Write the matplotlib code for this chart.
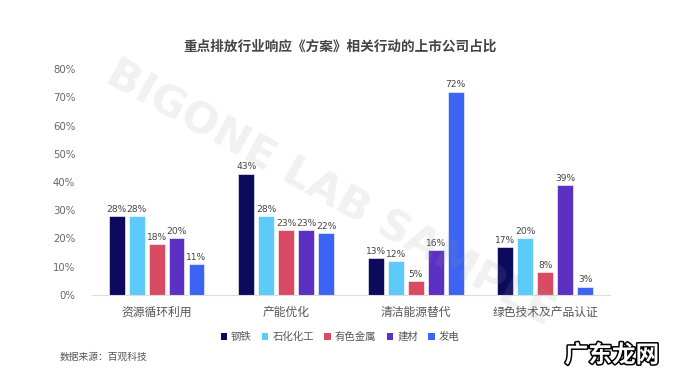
import matplotlib
matplotlib.use("Agg")
import matplotlib.pyplot as plt
import matplotlib.patheffects as pe
from matplotlib.patches import Patch
import numpy as np

plt.rcParams['font.family'] = ['Noto Sans CJK SC', 'DejaVu Sans']

categories = ['资源循环利用', '产能优化', '清洁能源替代', '绿色技术及产品认证']
series_names = ['钢铁', '石化化工', '有色金属', '建材', '发电']
steel = [28, 43, 13, 17]
petrochem = [28, 28, 12, 20]
nonferrous = [18, 23, 5, 8]
building = [20, 23, 16, 39]
power = [11, 22, 72, 3]
yticks = [0, 10, 20, 30, 40, 50, 60, 70, 80]
colors = ['#0c0a5c', '#5ccbfa', '#d94b63', '#5b30c3', '#3c63f4']

series = [steel, petrochem, nonferrous, building, power]

fig = plt.figure(figsize=(6.8, 3.8), dpi=100)
ax = fig.add_axes([0.135, 0.2237, 0.762, 0.5947])

x = np.arange(len(categories))
pitch = 0.154
width = 0.123
for i, (vals, c) in enumerate(zip(series, colors)):
    pos = x + (i - 2) * pitch
    ax.bar(pos, vals, width=width, color=c, edgecolor='white', linewidth=0.4, zorder=2)
    for p, v in zip(pos, vals):
        ax.text(p, v + 0.8, f'{v}%', ha='center', va='bottom', fontsize=6.6,
                color='#444444', family=['DejaVu Sans'], zorder=3)

ax.set_xlim(-0.5, 3.5)
ax.set_ylim(0, 80)
ax.set_yticks(yticks)
ax.set_yticklabels([f'{t}%' for t in yticks], fontsize=7.3, color='#666666', family=['DejaVu Sans'])
ax.set_xticks(x)
ax.set_xticklabels(categories, fontsize=8.5, color='#555555')
ax.tick_params(axis='both', length=0)
ax.tick_params(axis='y', pad=12)
ax.tick_params(axis='x', pad=8)
for s in ['top', 'right', 'left']:
    ax.spines[s].set_visible(False)
ax.spines['bottom'].set_color('#dddddd')
ax.spines['bottom'].set_linewidth(0.8)

fig.text(0.5, 0.877, '重点排放行业响应《方案》相关行动的上市公司占比', ha='center', va='center',
         fontsize=9.8, fontweight='bold', color='#444444')

handles = [Patch(facecolor=c, edgecolor='none') for c in colors]
fig.legend(handles, series_names, loc='center', bbox_to_anchor=(0.5, 0.113), ncol=5,
           frameon=False, fontsize=7.5, handlelength=0.6, handleheight=0.6,
           handletextpad=0.4, columnspacing=1.0, labelcolor='#555555')

fig.text(0.088, 0.06, '数据来源：百观科技', ha='left', va='center', fontsize=7, color='#555555')

fig.text(0.485, 0.49, 'BIGONE LAB SAMPLE', ha='center', va='center', fontsize=31,
         fontweight='bold', color='#999999', alpha=0.14, rotation=-29,
         family=['DejaVu Sans'], zorder=10)

fig.text(0.9, 0.065, '广东龙网', ha='center', va='center', fontsize=17, fontweight='bold',
         color='white', path_effects=[pe.withStroke(linewidth=2.2, foreground='black')])

fig.savefig('out.png', dpi=100, facecolor='white')
